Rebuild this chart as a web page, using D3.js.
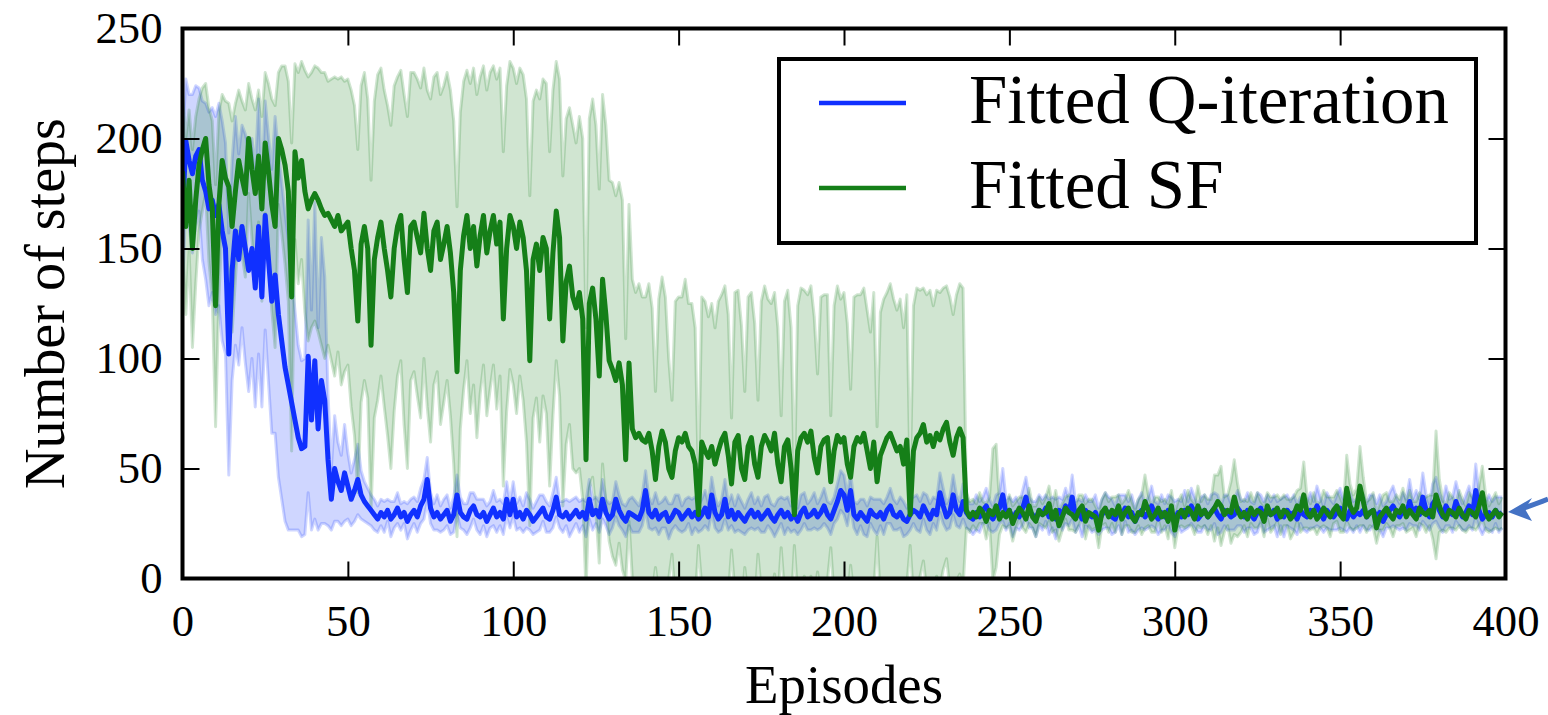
<!DOCTYPE html>
<html>
<head>
<meta charset="utf-8">
<script src="https://cdn.jsdelivr.net/npm/d3@7"></script>
<style>
  html, body { margin: 0; padding: 0; background: #fff; }
  svg { display: block; }
</style>
</head>
<body>
<svg id="chart" width="1548" height="715"></svg>
<script>
// series names and tick values
const seriesNames = ["Fitted Q-iteration", "Fitted SF"]
const xTicks = [0, 50, 100, 150, 200, 250, 300, 350, 400]
const yTicks = [0, 50, 100, 150, 200, 250]
const episodes = d3.range(400)

// Fitted Q-iteration: mean number of steps per episode
const qMean = [
  164,199,190,184,192,195,181,176,168,172,165,170,158,150,102,140,158,145,160,150,
  140,150,132,160,128,165,145,126,138,120,108,96,88,80,72,64,59,60,101,72,
  99,68,90,81,54,36,50,44,40,48,42,36,40,45,38,35,33,31,29,27,
  30,28,31,27,29,32,28,30,26,29,31,28,33,36,45,32,28,30,27,29,
  31,26,29,38,30,28,27,31,33,29,28,30,26,29,32,28,30,27,36,29,
  36,28,30,27,31,29,26,28,30,32,28,27,31,37,29,28,30,27,29,31,
  28,30,27,36,29,31,28,36,30,27,29,36,31,28,26,30,29,28,27,31,
  40,30,28,31,27,29,30,26,28,31,30,27,29,31,28,30,27,29,32,28,
  38,30,27,29,36,28,31,27,30,28,26,29,31,28,30,27,29,31,28,26,
  29,31,28,30,27,29,26,30,32,28,29,31,28,30,33,29,27,31,35,40,
  38,31,40,29,27,30,28,26,31,29,28,30,27,31,33,29,28,30,27,26,
  29,31,30,28,33,30,27,31,29,39,33,28,30,38,31,29,35,30,28,27,
  30,28,31,33,29,27,30,32,38,29,31,27,30,28,32,37,30,29,27,31,
  29,32,28,30,27,31,29,33,30,37,28,30,27,31,29,28,30,26,29,31,
  30,28,27,31,29,32,28,30,26,29,31,28,30,33,29,27,30,28,31,29,
  27,30,28,31,29,33,30,27,29,31,28,30,32,29,27,31,30,28,29,32,
  30,28,31,29,27,30,32,28,30,29,31,27,30,28,31,29,30,27,31,29,
  28,31,29,33,30,27,31,29,28,30,32,29,27,31,28,30,29,31,28,30,
  31,28,30,26,29,31,33,30,28,31,29,35,30,32,29,37,31,28,34,36,
  31,28,33,30,29,35,31,28,30,33,29,40,31,27,29,30,28,31,29,30
]
// Fitted Q-iteration: spread (std) around the mean
const qStd = [
  34,28,30,36,32,28,36,40,44,42,45,46,50,48,55,50,52,48,46,52,
  55,50,54,58,50,52,56,60,72,74,72,70,66,58,50,42,40,40,62,50,
  72,46,65,56,30,14,24,18,16,22,15,12,14,16,11,9,8,7,7,6,
  6,7,5,8,6,7,6,5,8,7,6,7,8,9,10,7,6,8,6,7,
  7,6,8,9,7,6,7,8,6,7,8,6,7,6,8,7,6,7,8,6,
  8,6,7,6,8,7,6,7,8,6,7,6,8,9,6,7,6,8,7,6,
  7,6,8,9,7,6,7,9,6,7,6,8,7,6,7,6,8,7,6,7,
  9,7,6,8,7,6,7,8,6,7,8,6,7,6,8,7,6,7,8,6,
  8,7,6,7,9,6,7,6,8,7,6,7,8,6,7,6,8,7,6,7,
  7,6,8,7,6,7,6,8,7,6,7,8,6,7,8,6,7,6,8,9,
  9,7,8,6,7,6,8,7,6,7,8,6,7,6,8,7,6,7,8,6,
  7,6,8,7,6,8,7,6,7,9,8,6,7,9,7,6,8,7,6,7,
  8,7,6,8,7,6,8,7,12,7,6,8,7,6,8,9,7,6,8,7,
  7,6,8,7,9,6,7,8,6,10,7,6,8,7,6,7,8,6,7,8,
  7,8,6,7,9,6,7,8,6,7,8,6,7,9,6,7,8,6,7,8,
  8,6,7,9,6,8,7,6,8,7,6,8,7,9,6,7,8,6,7,8,
  6,7,8,6,7,9,6,7,8,6,7,8,6,9,7,6,8,7,6,7,
  7,8,6,9,7,6,8,7,6,8,9,7,6,8,7,6,8,7,6,8,
  7,6,8,7,6,8,9,7,6,8,7,10,6,8,7,11,7,6,9,10,
  8,7,9,6,8,9,7,6,8,9,7,12,8,7,6,8,7,6,8,7
]
// Fitted SF: mean number of steps per episode
const sfMean = [
  185,160,181,150,172,188,195,200,179,168,124,170,190,182,178,160,176,190,182,175,
  200,186,175,192,168,198,185,170,160,200,195,188,176,128,194,182,190,176,168,172,
  175,172,168,165,166,163,160,165,158,160,162,150,140,117,152,160,150,106,145,155,
  162,150,140,128,150,160,165,145,130,160,162,155,148,166,150,140,158,162,145,152,
  160,148,130,94,140,156,165,150,160,142,156,165,148,158,165,152,162,118,150,165,
  160,150,162,155,140,99,145,152,140,155,150,118,148,167,155,108,135,142,128,123,
  130,118,54,125,132,118,92,136,120,99,95,90,98,88,54,98,68,64,66,63,
  62,66,58,45,60,67,62,50,46,58,64,62,66,60,58,52,29,62,58,55,
  60,52,58,63,66,56,43,62,65,50,45,60,64,52,46,60,65,62,58,66,
  52,44,60,63,50,29,58,64,66,62,67,55,48,60,63,64,44,58,65,62,
  64,52,46,60,64,62,66,58,50,62,44,56,60,64,66,62,58,60,52,63,
  29,58,64,66,70,62,65,60,66,63,68,71,62,56,64,68,64,31,28,30,
  28,32,30,26,31,29,33,27,30,28,31,25,29,32,30,27,33,28,26,31,
  29,30,34,27,31,24,28,32,30,29,27,31,33,26,30,29,28,22,30,32,
  28,31,29,33,27,30,32,28,26,30,29,35,31,27,29,32,28,30,26,33,
  22,29,31,28,32,30,27,33,29,31,28,30,32,35,33,29,31,30,37,31,
  28,30,27,32,29,31,30,26,33,29,30,32,28,31,30,27,29,33,31,38,
  30,28,31,27,29,32,30,28,31,33,29,27,41,33,30,32,42,35,28,30,
  31,23,28,30,32,29,27,31,30,33,28,31,29,27,32,30,29,31,28,38,
  33,29,27,31,30,28,32,29,27,31,30,28,33,39,30,27,29,31,28,30
]
// Fitted SF: spread (std) around the mean
const sfStd = [
  35,40,32,45,38,30,28,25,35,40,55,42,30,35,38,48,40,32,35,38,
  25,32,38,30,42,32,40,48,55,30,38,45,50,70,40,48,45,55,60,58,
  58,60,62,65,60,64,68,62,70,66,65,72,75,78,72,70,68,75,72,74,
  70,72,75,78,74,68,66,75,80,70,68,72,75,66,72,78,70,68,75,72,
  70,74,78,75,72,70,66,75,72,78,72,68,74,72,68,75,70,76,74,70,
  72,75,70,74,78,75,72,70,78,72,75,76,74,68,72,75,74,72,78,75,
  80,82,60,84,86,88,85,84,86,82,85,84,82,84,55,72,68,66,68,65,
  66,68,65,40,67,70,66,50,35,68,64,66,70,65,67,62,14,66,68,64,
  65,62,68,66,67,64,30,68,66,65,40,68,66,64,35,66,68,65,67,64,
  62,30,66,68,64,14,66,68,65,67,66,64,45,68,66,65,30,66,68,65,
  66,64,40,68,65,67,66,64,62,68,25,65,67,66,68,65,64,67,62,66,
  14,66,68,65,62,67,66,64,65,67,64,62,66,64,65,66,68,8,7,6,
  6,7,5,8,6,30,28,7,6,5,7,8,6,5,7,6,8,5,7,6,
  5,7,8,6,9,7,6,5,8,7,6,7,5,8,6,7,5,8,6,7,
  7,6,8,5,7,6,8,7,5,6,9,12,7,6,8,5,7,6,8,7,
  8,6,7,5,8,6,7,9,6,7,8,6,15,12,18,8,7,14,17,12,
  7,6,8,7,6,8,5,7,6,8,7,6,8,7,6,9,8,7,10,15,
  7,6,8,7,6,8,7,9,6,7,8,6,15,10,8,9,18,11,7,6,
  8,7,6,8,7,6,8,7,6,8,7,9,6,8,7,6,8,7,10,29,
  12,7,6,8,7,6,8,7,6,8,7,6,9,12,8,6,7,8,6,7
]

const colors = ["#1030ff", "#157f18"]

// pick the first serif face that is really installed
function hasFont(name) {
  const c = document.createElement("canvas").getContext("2d")
  const sample = "Fitted Q-iteration 0123456789 Episodes"
  return ["monospace", "sans-serif", "serif"].some(base => {
    c.font = `50px ${base}`
    const w0 = c.measureText(sample).width
    c.font = `50px '${name}', ${base}`
    return c.measureText(sample).width !== w0
  })
}
const candidates = ["Liberation Serif", "DejaVu Serif", "Noto Serif", "Tinos", "Times New Roman",
  "FreeSerif", "Nimbus Roman", "C059", "Latin Modern Roman", "CMU Serif", "Georgia"]
const found = candidates.find(hasFont)
const fontFamily = found ? `'${found}', serif` : "serif"

const plotLeft = 182.5, plotRight = 1505.5, plotTop = 28.5, plotBottom = 578.5
const svg = d3.select("#chart")

// scale a text's font size so its width matches the reference width
function fitWidth(sel, size, target) {
  const w = sel.node().getComputedTextLength()
  let s = w > 0 ? size * target / w : size
  s = Math.max(size * 0.85, Math.min(size * 1.15, s))
  sel.attr("font-size", s)
  return s
}

const x = d3.scaleLinear().domain([0, 400]).range([plotLeft, plotRight])
const y = d3.scaleLinear().domain([0, 250]).range([plotBottom, plotTop])

svg.append("clipPath").attr("id", "plotclip")
  .append("rect")
  .attr("x", plotLeft).attr("y", plotTop)
  .attr("width", plotRight - plotLeft).attr("height", plotBottom - plotTop)

const series = [
  { name: seriesNames[0], mean: qMean, std: qStd, color: colors[0] },
  { name: seriesNames[1], mean: sfMean, std: sfStd, color: colors[1] }
]
series.forEach(s => {
  s.rows = episodes.map((ep, i) => ({ ep: ep, m: s.mean[i], s: s.std[i] }))
})

const plot = svg.append("g").attr("clip-path", "url(#plotclip)")

const area = d3.area()
  .x(d => x(d.ep))
  .y0(d => y(d.m - d.s))
  .y1(d => y(d.m + d.s))
const upper = d3.line().x(d => x(d.ep)).y(d => y(d.m + d.s))
const lower = d3.line().x(d => x(d.ep)).y(d => y(d.m - d.s))
const meanLine = d3.line().x(d => x(d.ep)).y(d => y(d.m))

// shaded bands + their light edge lines
series.forEach(s => {
  plot.append("path").datum(s.rows)
    .attr("d", area)
    .attr("fill", s.color)
    .attr("fill-opacity", 0.2)
  ;[upper, lower].forEach(gen => {
    plot.append("path").datum(s.rows)
      .attr("d", gen)
      .attr("fill", "none")
      .attr("stroke", s.color)
      .attr("stroke-opacity", 0.2)
      .attr("stroke-width", 3)
      .attr("stroke-linejoin", "round")
  })
})

// mean lines
series.forEach(s => {
  plot.append("path").datum(s.rows)
    .attr("d", meanLine)
    .attr("fill", "none")
    .attr("stroke", s.color)
    .attr("stroke-width", 5)
    .attr("stroke-linejoin", "round")
})

// tick label size from the width of "250" in the reference
const probe = svg.append("text").attr("font-family", fontFamily).attr("font-size", 46).text("250")
const tickSize = fitWidth(probe, 46, 67)
probe.remove()

// axes, ticks pointing inwards on all four sides
const tickLen = 17
const styleAxis = (g) => {
  g.attr("font-family", fontFamily)
  g.select(".domain").remove()
  g.selectAll(".tick line").attr("stroke", "#000").attr("stroke-width", 2)
  g.selectAll("text")
    .attr("fill", "#000")
    .attr("font-family", fontFamily)
    .attr("font-size", tickSize)
}

svg.append("g")
  .attr("transform", `translate(0,${plotBottom})`)
  .call(d3.axisBottom(x).tickValues(xTicks).tickSizeInner(-tickLen).tickSizeOuter(0).tickPadding(26))
  .call(styleAxis)

svg.append("g")
  .attr("transform", `translate(0,${plotTop})`)
  .call(d3.axisTop(x).tickValues(xTicks).tickSizeInner(-tickLen).tickSizeOuter(0).tickFormat(""))
  .call(styleAxis)

svg.append("g")
  .attr("transform", `translate(${plotLeft},0)`)
  .call(d3.axisLeft(y).tickValues(yTicks).tickSizeInner(-tickLen).tickSizeOuter(0).tickPadding(20))
  .call(styleAxis)

svg.append("g")
  .attr("transform", `translate(${plotRight},0)`)
  .call(d3.axisRight(y).tickValues(yTicks).tickSizeInner(-tickLen).tickSizeOuter(0).tickFormat(""))
  .call(styleAxis)

// frame
svg.append("rect")
  .attr("x", plotLeft).attr("y", plotTop)
  .attr("width", plotRight - plotLeft).attr("height", plotBottom - plotTop)
  .attr("fill", "none")
  .attr("stroke", "#000")
  .attr("stroke-width", 4)

// axis titles
const xTitle = svg.append("text")
  .attr("x", (plotLeft + plotRight) / 2)
  .attr("y", 703)
  .attr("text-anchor", "middle")
  .attr("font-family", fontFamily)
  .attr("font-size", 54)
  .text("Episodes")
fitWidth(xTitle, 54, 198)

const yTitle = svg.append("text")
  .attr("transform", `translate(64,${(plotTop + plotBottom) / 2}) rotate(-90)`)
  .attr("text-anchor", "middle")
  .attr("font-family", fontFamily)
  .attr("font-size", 55)
  .text("Number of steps")
fitWidth(yTitle, 55, 371)

// legend
const legend = svg.append("g")
legend.append("rect")
  .attr("x", 779).attr("y", 59)
  .attr("width", 697).attr("height", 184)
  .attr("fill", "#fff")
  .attr("stroke", "#000")
  .attr("stroke-width", 4)

const legendRows = [103, 188]
const legendTexts = series.map((s, i) => {
  legend.append("line")
    .attr("x1", 819).attr("x2", 906)
    .attr("y1", legendRows[i]).attr("y2", legendRows[i])
    .attr("stroke", s.color)
    .attr("stroke-width", 4.5)
  return legend.append("text")
    .attr("x", 969)
    .attr("y", legendRows[i] + 20)
    .attr("font-family", fontFamily)
    .attr("font-size", 62)
    .text(s.name)
})
const legendSize = fitWidth(legendTexts[0], 62, 480)
legendTexts[1].attr("font-size", legendSize)

// blue annotation arrow at the right edge
const arrowColor = "#4472c4"
svg.append("path")
  .attr("d", "M1548,499 Q1538,503 1524,508")
  .attr("fill", "none")
  .attr("stroke", arrowColor)
  .attr("stroke-width", 5)
svg.append("path")
  .attr("d", "M1508,512 L1532,498 L1525,509 L1532,521 Z")
  .attr("fill", arrowColor)
</script>
</body>
</html>
